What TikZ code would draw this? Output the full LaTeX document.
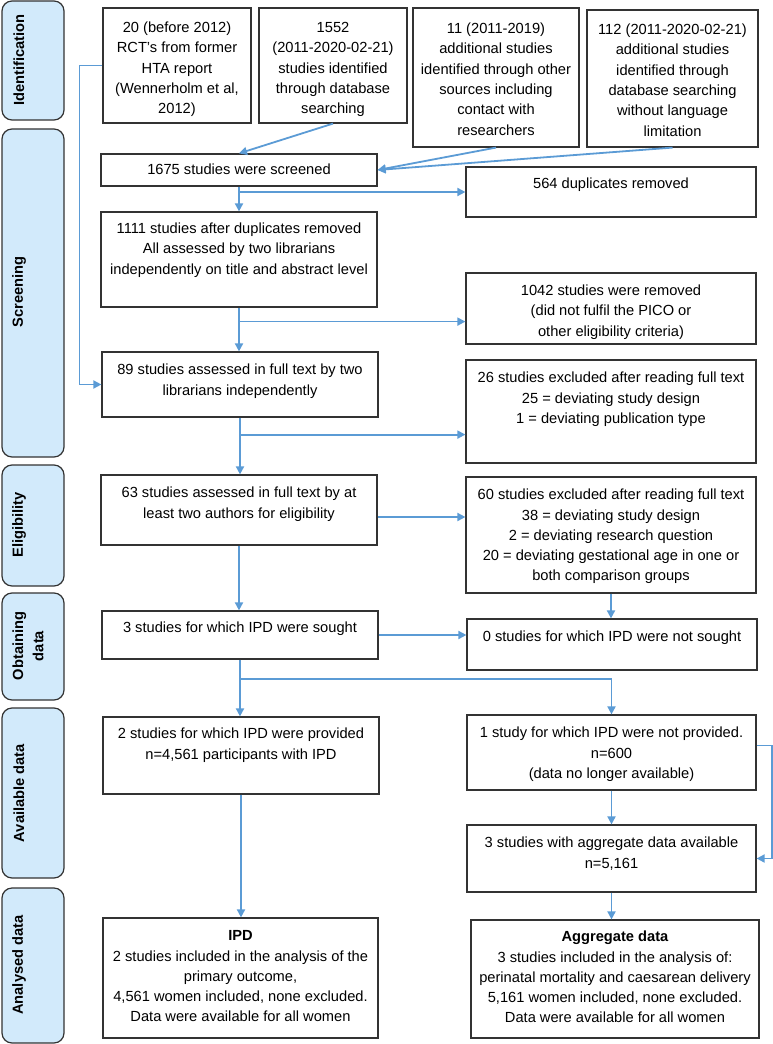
\documentclass[tikz,border=0pt]{standalone}
\usepackage{fontspec}
\setmainfont{Liberation Sans}
\usetikzlibrary{arrows.meta,fit,calc}
\definecolor{arrowblue}{HTML}{5B9BD5}
\definecolor{labelfill}{HTML}{D2EAFB}
\definecolor{boxline}{HTML}{333333}
\newcommand{\fs}{\rule{0pt}{8.3pt}}
\begin{document}
\begin{tikzpicture}[x=0.75pt,y=-0.75pt,
  box/.style={draw=boxline, line width=0.9pt, inner sep=0pt, rectangle},
  labelbox/.style={draw=boxline, line width=0.9pt, inner sep=0pt, rectangle, rounded corners=7.5pt, fill=labelfill},
  labeltxt/.style={rotate=90, font=\fontsize{11}{15.2}\selectfont\bfseries, align=center, inner sep=0pt},
  txt/.style={anchor=north, align=center, font=\fontsize{11}{15.2}\selectfont, inner sep=0pt},
  arr/.style={draw=arrowblue, line width=1.35pt, -{Triangle[length=6pt,width=6pt]}}
]
\useasboundingbox (0,0) rectangle (773,1044);

% stage labels
\node[labelbox, fit={(2,1)(64,120)}] (lid) {};
\node[labeltxt] (tid) at (19,60) {Identification};
\node[labelbox, fit={(2,129)(64,457)}] (lsc) {};
\node[labeltxt] (tsc) at (19,292) {Screening};
\node[labelbox, fit={(2,465)(64,586)}] (lel) {};
\node[labeltxt] (tel) at (19,525) {Eligibility};
\node[labelbox, fit={(2,593)(64,700)}] (lob) {};
\node[labeltxt] (tob) at (28,646) {Obtaining\\data};
\node[labelbox, fit={(2,708)(64,878)}] (lav) {};
\node[labeltxt] (tav) at (19,793) {Available data};
\node[labelbox, fit={(2,888)(64,1043)}] (lan) {};
\node[labeltxt] (tan) at (19,965) {Analysed data};

% boxes
\node[box, fit={(103,8)(251,123)}] (b20) {};
\node[txt] (t20) at ($(b20.north)+(0,14)$) {\fs 20 (before 2012)\\RCT’s from former\\HTA report\\(Wennerholm et al,\\2012)};
\node[box, fit={(259,8)(407,123)}] (b1552) {};
\node[txt] (t1552) at ($(b1552.north)+(0,14)$) {\fs 1552\\(2011-2020-02-21)\\studies identified\\through database\\searching};
\node[box, fit={(413,8)(579,147)}] (b11) {};
\node[txt] (t11) at ($(b11.north)+(0,15)$) {\fs 11 (2011-2019)\\additional studies\\identified through other\\sources including\\contact with\\researchers};
\node[box, fit={(587,10)(758,147)}] (b112) {};
\node[txt] (t112) at ($(b112.north)+(0,14)$) {\fs 112 (2011-2020-02-21)\\additional studies\\identified through\\database searching\\without language\\limitation};

\node[box, fit={(101,154)(377,186)}] (b1675) {};
\node[txt] (t1675) at ($(b1675.north)+(0,10)$) {\fs 1675 studies were screened};
\node[box, fit={(466,167)(756,217)}] (b564) {};
\node[txt] (t564) at ($(b564.north)+(0,11)$) {\fs 564 duplicates removed};

\node[box, fit={(101,212)(377,307)}] (b1111) {};
\node[txt] (t1111) at ($(b1111.north)+(0,11)$) {\fs 1111 studies after duplicates removed\\All assessed by two librarians\\independently on title and abstract level};
\node[box, fit={(466,273)(756,344)}] (b1042) {};
\node[txt] (t1042) at ($(b1042.north)+(0,12)$) {\fs 1042 studies were removed\\(did not fulfil the PICO or\\other eligibility criteria)};

\node[box, fit={(102,352)(378,417)}] (b89) {};
\node[txt] (t89) at ($(b89.north)+(0,12)$) {\fs 89 studies assessed in full text by two\\librarians independently};
\node[box, fit={(466,360)(756,463)}] (b26) {};
\node[txt] (t26) at ($(b26.north)+(0,12)$) {\fs 26 studies excluded after reading full text\\25 = deviating study design\\1 = deviating publication type};

\node[box, fit={(101,475)(377,545)}] (b63) {};
\node[txt] (t63) at ($(b63.north)+(0,12)$) {\fs 63 studies assessed in full text by at\\least two authors for eligibility};
\node[box, fit={(466,477)(756,593)}] (b60) {};
\node[txt] (t60) at ($(b60.north)+(0,12)$) {\fs 60 studies excluded after reading full text\\38 = deviating study design\\2 = deviating research question\\20 = deviating gestational age in one or\\both comparison groups};

\node[box, fit={(102,611)(378,659)}] (b3s) {};
\node[txt] (t3s) at ($(b3s.north)+(0,11)$) {\fs 3 studies for which IPD were sought};
\node[box, fit={(467,619)(757,670)}] (b0) {};
\node[txt] (t0) at ($(b0.north)+(0,12)$) {\fs 0 studies for which IPD were not sought};

\node[box, fit={(103,717)(379,794)}] (b2p) {};
\node[txt] (t2p) at ($(b2p.north)+(0,11)$) {\fs 2 studies for which IPD were provided\\n=4,561 participants with IPD};
\node[box, fit={(467,715)(756,790)}] (b1p) {};
\node[txt] (t1p) at ($(b1p.north)+(0,12)$) {\fs 1 study for which IPD were not provided.\\n=600\\(data no longer available)};

\node[box, fit={(467,825)(756,892)}] (b3a) {};
\node[txt] (t3a) at ($(b3a.north)+(0,12)$) {\fs 3 studies with aggregate data available\\n=5,161};

\node[box, fit={(103,918)(378,1038)}] (bipd) {};
\node[txt] (tipd) at ($(bipd.north)+(0,12)$) {\fs \textbf{IPD}\\2 studies included in the analysis of the\\primary outcome,\\4,561 women included, none excluded.\\Data were available for all women};
\node[box, fit={(471,920)(759,1038)}] (bagg) {};
\node[txt] (tagg) at ($(bagg.north)+(0,11)$) {\fs \textbf{Aggregate data}\\3 studies included in the analysis of:\\perinatal mortality and caesarean delivery\\5,161 women included, none excluded.\\Data were available for all women};

% connectors
\draw[arr] (b1552.south) -- (b1675.north);
\draw[arr] (b11.south) -- (b1675.east);
\draw[arr] (b112.south) -- (b1675.east);
\draw[arr] (b20.west) -- ++(-23,0) |- (b89.west);

\draw[arr] (b1675.south) -- (b1111.north);
\draw[arr] (b1675.south |- b564.west) -- (b564.west);

\draw[arr] (b1111.south) -- (b1111.south |- b89.north);
\coordinate (j2) at ($(b1111.south)+(0,14)$);
\draw[arr] (j2) -- (j2 -| b1042.west);

\draw[arr] (b89.south) -- (b89.south |- b63.north);
\coordinate (j3) at ($(b89.south)+(0,17)$);
\draw[arr] (j3) -- (j3 -| b26.west);

\coordinate (j4) at ($(b63.east)+(0,7)$);
\draw[arr] (j4) -- (j4 -| b60.west);
\draw[arr] (b63.south) -- (b63.south |- b3s.north);
\draw[arr] (b60.south) -- (b60.south |- b0.north);
\draw[arr] (b3s.east) -- (b3s.east -| b0.west);

\draw[arr] (b3s.south) -- (b3s.south |- b2p.north);
\coordinate (j5) at ($(b3s.south)+(0,19)$);
\draw[arr] (j5) -| (b1p.north);

\draw[arr] (b1p.south) -- (b1p.south |- b3a.north);
\coordinate (j6) at ($(b1p.east)+(0,-7)$);
\draw[arr] (j6) -- ++(15,0) |- (b3a.east);
\draw[arr] (b3a.south) -- (b3a.south |- bagg.north);
\draw[arr] (b2p.south) -- (b2p.south |- bipd.north);
\end{tikzpicture}
\end{document}
